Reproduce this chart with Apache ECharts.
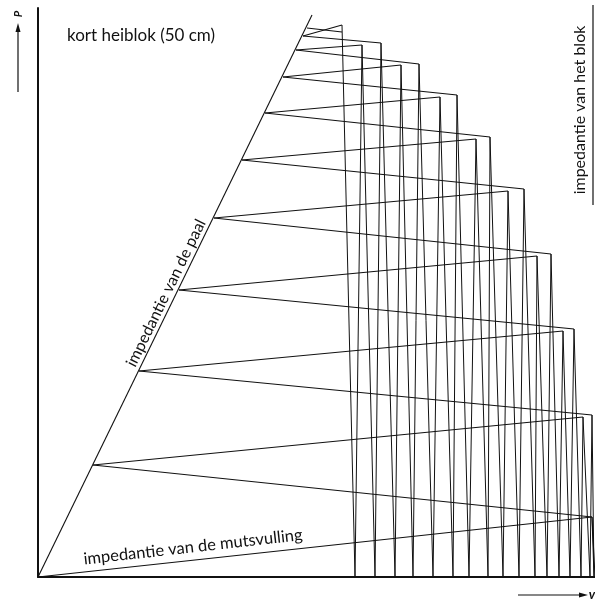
<!DOCTYPE html>
<html>
<head>
<meta charset="utf-8">
<script src="https://cdn.jsdelivr.net/npm/echarts@6/dist/echarts.min.js"></script>
<style>
  html, body { margin: 0; padding: 0; background: #fff; }
  #chart { width: 595px; height: 602px; }
</style>
</head>
<body>
<div id="chart"></div>
<script>
const paalEnd = [274, 562];

// toestanden paalkop, op de paal-impedantielijn (van onder naar boven)
const pileHead = [
  [55, 112], [101, 206], [141, 287], [176, 359], [204, 417],
  [227, 464], [245, 500], [258, 527], [265, 541], [269, 549]
];
// buitenste punten rechts (einde dalende lijn vanaf pileHead[i])
const outerTip = [
  [554, 60], [554, 162], [536, 248], [513, 323], [486, 388],
  [452, 440], [419, 482], [381, 513], [343, 534], [304, 545]
];
// binnenste punten rechts (einde stijgende lijn vanaf pileHead[i])
const innerTip = [
  [545, 160], [525, 246], [499, 321], [470, 386], [438, 438],
  [402, 480], [363, 512], [324, 532], [304, 552]
];
// vrije kop van het blok (P = 0), van rechts naar links
const blockFree = [557, 556, 552, 543, 532, 521, 509, 497, 481, 465, 450, 431, 415, 395, 375, 357, 337, 317];

const segs = [];
segs.push({ coords: [[0, 0], paalEnd] });        // impedantie van de paal
segs.push({ coords: [[0, 0], outerTip[0]] });    // impedantie van de mutsvulling
pileHead.forEach((p, i) => {
  segs.push({ coords: [p, outerTip[i]] });
  if (innerTip[i]) segs.push({ coords: [p, innerTip[i]] });
});

// zaagtand van het blok: vrije kop -> punt rechts -> vrije kop ...
let tips = [outerTip[0]];
for (let k = 1; k <= 8; k++) {
  tips.push(outerTip[k], innerTip[k - 1]);
}
tips.push(innerTip[8]);
let chain = [];
tips.forEach((t, j) => {
  chain.push([blockFree[j], 0]);
  chain.push(t);
});

let myChart = echarts.init(document.getElementById('chart'), null, { renderer: 'canvas' });
const font = 'Lato, "Open Sans", sans-serif';
const deg = Math.PI / 180;

let option = {
  animation: false,
  backgroundColor: '#fff',
  grid: { left: 38, right: 0, top: 8, bottom: 25 },
  xAxis: {
    type: 'value', min: 0, max: 557,
    axisLine: { show: true, lineStyle: { color: '#111', width: 2 } },
    axisTick: { show: false }, axisLabel: { show: false }, splitLine: { show: false }
  },
  yAxis: {
    type: 'value', min: 0, max: 569,
    axisLine: { show: true, lineStyle: { color: '#111', width: 2 } },
    axisTick: { show: false }, axisLabel: { show: false }, splitLine: { show: false }
  },
  series: [
    {
      type: 'lines',
      coordinateSystem: 'cartesian2d',
      silent: true,
      lineStyle: { color: '#111', width: 1.1, opacity: 1 },
      data: segs
    },
    {
      type: 'lines',
      coordinateSystem: 'cartesian2d',
      polyline: true,
      silent: true,
      lineStyle: { color: '#111', width: 1, opacity: 1 },
      data: [{ coords: chain }]
    }
  ],
  graphic: [
    {
      type: 'text', x: 67, y: 36,
      style: { text: 'kort heiblok (50 cm)', font: '17px ' + font, fill: '#111', textVerticalAlign: 'middle' }
    },
    {
      type: 'text', x: 166, y: 293, rotation: 64 * deg,
      style: { text: 'impedantie van de paal', font: '16px ' + font, fill: '#111', textAlign: 'center', textVerticalAlign: 'middle' }
    },
    {
      type: 'text', x: 193, y: 547, rotation: 6.4 * deg,
      style: { text: 'impedantie van de mutsvulling', font: '16.5px ' + font, fill: '#111', textAlign: 'center', textVerticalAlign: 'middle' }
    },
    {
      type: 'text', x: 580, y: 110, rotation: 90 * deg,
      style: { text: 'impedantie van het blok', font: '16px ' + font, fill: '#111', textAlign: 'center', textVerticalAlign: 'middle' }
    },
    {
      type: 'line', shape: { x1: 593, y1: 5, x2: 593, y2: 205 },
      style: { stroke: '#111', lineWidth: 1.2 }
    },
    // P-pijl
    {
      type: 'line', shape: { x1: 18, y1: 92, x2: 18, y2: 30 },
      style: { stroke: '#111', lineWidth: 1.2 }
    },
    {
      type: 'polygon', shape: { points: [[18, 23], [15.5, 32], [20.5, 32]] },
      style: { fill: '#111' }
    },
    {
      type: 'text', x: 18, y: 14, rotation: 90 * deg,
      style: { text: 'P', font: 'italic bold 11px ' + font, fill: '#111', textAlign: 'center', textVerticalAlign: 'middle' }
    },
    // v-pijl
    {
      type: 'line', shape: { x1: 518, y1: 595, x2: 582, y2: 595 },
      style: { stroke: '#111', lineWidth: 1.2 }
    },
    {
      type: 'polygon', shape: { points: [[588, 595], [579, 592.5], [579, 597.5]] },
      style: { fill: '#111' }
    },
    {
      type: 'text', x: 592, y: 595,
      style: { text: 'v', font: 'italic bold 13px ' + font, fill: '#111', textAlign: 'center', textVerticalAlign: 'middle' }
    }
  ]
};
myChart.setOption(option);
window.addEventListener('resize', () => {
  myChart.resize();
});
</script>
</body>
</html>
